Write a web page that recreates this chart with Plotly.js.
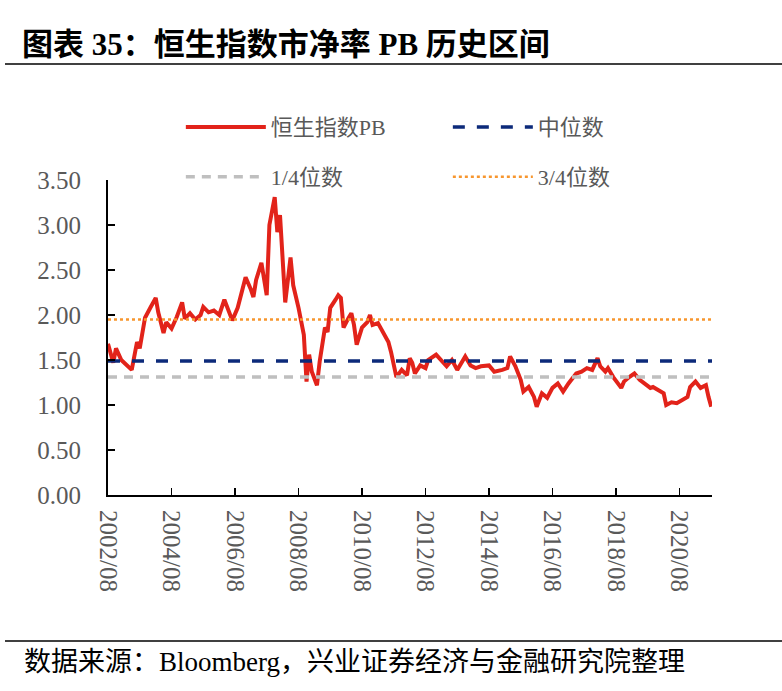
<!DOCTYPE html>
<html>
<head>
<meta charset="utf-8">
<script src="https://cdn.plot.ly/plotly-3.0.1.min.js"></script>
<style>
html,body{margin:0;padding:0;background:#fff;}
#chart{width:782px;height:691px;}
</style>
</head>
<body>
<div id="chart"></div>
<script>
// ---- data ----
const dates = [
"2002-08","2002-10","2002-11","2003-01","2003-05","2003-07","2003-08","2003-10","2003-12",
"2004-02","2004-03","2004-05","2004-06","2004-08","2004-10","2004-12",
"2005-01","2005-03","2005-05","2005-07","2005-08","2005-10","2005-12",
"2006-02","2006-04","2006-07","2006-09","2006-11","2006-12",
"2007-02","2007-03","2007-04","2007-06","2007-08","2007-09","2007-11","2007-12",
"2008-01","2008-02","2008-03","2008-05","2008-06","2008-08","2008-10","2008-11","2008-12",
"2009-01","2009-03","2009-04","2009-06","2009-07","2009-08","2009-10","2009-11","2009-12",
"2010-01","2010-03","2010-04","2010-05","2010-06","2010-08","2010-10","2010-11","2010-12",
"2011-02","2011-04","2011-06","2011-07","2011-08","2011-09","2011-11",
"2012-01","2012-02","2012-03","2012-04","2012-06","2012-08","2012-09","2012-12",
"2013-02","2013-04","2013-06","2013-08","2013-11",
"2014-01","2014-03","2014-05","2014-08","2014-10",
"2015-01","2015-03","2015-04","2015-06","2015-08","2015-09","2015-11",
"2016-01","2016-02","2016-04","2016-06","2016-08","2016-10","2016-12",
"2017-02","2017-03","2017-05","2017-07","2017-09","2017-11",
"2018-01","2018-02","2018-04","2018-05","2018-07","2018-10","2018-11",
"2019-01","2019-03","2019-05","2019-07","2019-09","2019-10","2019-12",
"2020-02","2020-03","2020-05","2020-07","2020-09","2020-11","2020-12",
"2021-02","2021-04","2021-06","2021-07","2021-08"
];
const pbValues = [
1.68,1.47,1.63,1.50,1.39,1.70,1.63,1.97,2.08,
2.19,2.03,1.80,1.92,1.85,1.98,2.14,
1.96,2.02,1.95,2.00,2.09,2.03,2.05,
2.00,2.17,1.94,2.08,2.33,2.42,
2.28,2.20,2.39,2.58,2.22,3.00,3.31,2.92,
3.11,2.63,2.14,2.64,2.33,2.08,1.78,1.26,1.56,
1.37,1.22,1.48,1.86,1.81,2.08,2.17,2.22,2.19,
1.86,1.97,2.02,1.89,1.67,1.86,1.92,2.00,1.89,
1.91,1.81,1.70,1.59,1.44,1.31,1.39,
1.33,1.52,1.47,1.35,1.44,1.41,1.50,1.56,
1.50,1.43,1.50,1.39,1.54,
1.44,1.41,1.43,1.44,1.37,
1.39,1.41,1.54,1.43,1.28,1.15,1.20,
1.09,0.98,1.13,1.08,1.19,1.24,1.15,
1.24,1.28,1.35,1.37,1.41,1.39,
1.52,1.43,1.37,1.41,1.31,1.19,1.26,
1.31,1.35,1.28,1.24,1.19,1.20,1.17,
1.13,1.00,1.03,1.02,1.06,1.09,1.20,
1.26,1.19,1.22,1.09,0.98
];
const medianValue = 1.49;
const q1Value = 1.31;
const q3Value = 1.95;
const seriesNames = ["恒生指数PB","中位数","1/4位数","3/4位数"];
const tickDates = ["2002-08-01","2004-08-01","2006-08-01","2008-08-01","2010-08-01","2012-08-01","2014-08-01","2016-08-01","2018-08-01","2020-08-01"];
const tickLabels = ["2002/08","2004/08","2006/08","2008/08","2010/08","2012/08","2014/08","2016/08","2018/08","2020/08"];
const yTicks = [0,0.5,1,1.5,2,2.5,3,3.5];
const yTickLabels = ["0.00","0.50","1.00","1.50","2.00","2.50","3.00","3.50"];
const xStart = "2002-08-01", xEnd = "2021-08-10";

const FONT = "'Liberation Serif', 'Times New Roman', 'Noto Sans CJK SC', serif";

const traces = [
  {x: dates, y: pbValues, name: seriesNames[0], type: "scatter", mode: "lines",
   line: {color: "#e2231a", width: 4}, legend: "legend"},
  {x: [xStart, xEnd], y: [medianValue, medianValue], name: seriesNames[1], type: "scatter", mode: "lines",
   line: {color: "#0c2a7a", width: 3.5, dash: "12px,12px"}, legend: "legend"},
  {x: [xStart, xEnd], y: [q1Value, q1Value], name: seriesNames[2], type: "scatter", mode: "lines",
   line: {color: "#bfbfbf", width: 3.5, dash: "9px,7px"}, legend: "legend2"},
  {x: [xStart, xEnd], y: [q3Value, q3Value], name: seriesNames[3], type: "scatter", mode: "lines",
   line: {color: "#f7962e", width: 2.5, dash: "dot"}, legend: "legend2"}
];

const legendBase = {
  orientation: "h", xanchor: "left", yanchor: "middle",
  x: 0.1206, entrywidth: 172, entrywidthmode: "pixels",
  font: {family: FONT, size: 22, color: "#595959"},
  bgcolor: "rgba(0,0,0,0)", borderwidth: 0, itemwidth: 80, itemclick: false
};

const layout = {
  width: 782, height: 691,
  margin: {l: 108, r: 70, t: 180, b: 196, pad: 0},
  paper_bgcolor: "#ffffff", plot_bgcolor: "#ffffff",
  font: {family: FONT, color: "#595959"},
  title: {
    text: "<b>图表 35：恒生指数市净率 PB 历史区间</b>",
    font: {family: FONT, size: 31, color: "#000000"},
    xref: "container", yref: "container", x: 22/782, xanchor: "left",
    y: 1 - 44/691, yanchor: "middle"
  },
  showlegend: true,
  legend: Object.assign({}, legendBase, {y: 1.168}),
  legend2: Object.assign({}, legendBase, {y: 1.0095}),
  xaxis: {
    type: "date", range: [xStart, xEnd],
    tickmode: "array", tickvals: tickDates, ticktext: tickLabels,
    tickangle: 90, ticks: "inside", ticklen: 7, tickwidth: 1.5, tickcolor: "#000",
    showline: true, linecolor: "#000", linewidth: 2, showgrid: false, zeroline: false,
    tickfont: {family: FONT, size: 25, color: "#595959"}, ticklabelstandoff: 8
  },
  yaxis: {
    range: [0, 3.5], tickmode: "array", tickvals: yTicks, ticktext: yTickLabels,
    ticks: "inside", ticklen: 7, tickwidth: 1.5, tickcolor: "#000",
    showline: true, linecolor: "#000", linewidth: 2, showgrid: false, zeroline: false,
    tickfont: {family: FONT, size: 25, color: "#595959"}, ticklabelstandoff: 20
  },
  shapes: [
    {type: "line", xref: "paper", yref: "paper", x0: (5-108)/604, x1: (782-108)/604,
     y0: (495-64)/315, y1: (495-64)/315, line: {color: "#000", width: 1.5}},
    {type: "line", xref: "paper", yref: "paper", x0: (5-108)/604, x1: (782-108)/604,
     y0: (495-641)/315, y1: (495-641)/315, line: {color: "#000", width: 1.5}}
  ],
  annotations: [
    {text: "数据来源：Bloomberg，兴业证券经济与金融研究院整理", xref: "paper", yref: "paper",
     x: (22-108)/604, y: (495-662)/315, xanchor: "left", yanchor: "middle", showarrow: false,
     font: {family: FONT, size: 27, color: "#000"}}
  ]
};

Plotly.newPlot("chart", traces, layout, {staticPlot: true, displayModeBar: false});
</script>
</body>
</html>
